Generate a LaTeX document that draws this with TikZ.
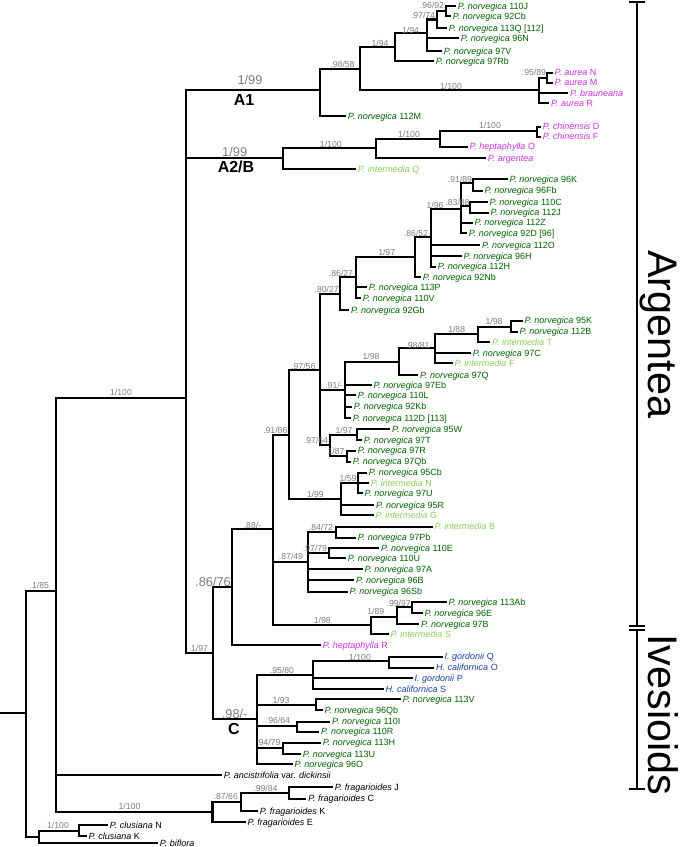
\documentclass[tikz,border=0pt]{standalone}
\usepackage{fontspec}
\setmainfont{Liberation Sans}
\definecolor{dg}{RGB}{0,100,0}
\definecolor{lg}{RGB}{140,205,90}
\definecolor{mg}{RGB}{200,50,220}
\definecolor{bl}{RGB}{25,65,165}
\definecolor{sg}{RGB}{125,125,125}
\newcommand\tp[5]{\node[tipl,text=#1] (#2) at (#3,#4) {#5};}
\newcommand\cl[4]{\draw[branch] (#1 |- #2) -- (#1 |- #3);\foreach \kk in {#4}{\draw[branch] (#1 |- \kk) -- (\kk);}}
\newcommand\sv[4]{\node[#1] (#2) at (#3) {#4};}
\newcommand\nv{\textit{P. norvegica}}
\begin{document}
\begin{tikzpicture}[x=0.75pt,y=-0.75pt,
  branch/.style={line width=1.6pt, line cap=rect},
  tipl/.style={anchor=west, inner xsep=2pt, inner ysep=0pt, font=\fontsize{6.75}{7}\selectfont, text height=4.8pt, text depth=0pt},
  sup/.style={font=\fontsize{6.5}{7}\selectfont, text=sg, inner sep=0pt},
  bigsup/.style={font=\fontsize{9.6}{10}\selectfont, text=sg, inner sep=0pt},
  cladel/.style={font=\fontsize{12}{13}\selectfont\bfseries, inner sep=0pt},
  brk/.style={line width=0.8pt},
  grp/.style={rotate=-90, anchor=base west, inner sep=0pt, font=\fontsize{31}{32}\selectfont}]
\useasboundingbox (0,0) rectangle (685,847);
% ---------- A1
\tp{dg}{a1}{455}{6}{\nv{} 110J}
\tp{dg}{a2}{450}{16}{\nv{} 92Cb}
\tp{dg}{a3}{446}{28}{\nv{} 113Q [112]}
\tp{dg}{a4}{458}{38}{\nv{} 96N}
\tp{dg}{a5}{441}{51}{\nv{} 97V}
\tp{dg}{a6}{433}{61}{\nv{} 97Rb}
\tp{mg}{a7}{551.7}{72.7}{\textit{P. aurea} N}
\tp{mg}{a8}{551.7}{82.7}{\textit{P. aurea} M}
\tp{mg}{a9}{567.3}{93.3}{\textit{P. brauneana}}
\tp{mg}{a10}{548.3}{103.3}{\textit{P. aurea} R}
\tp{dg}{a11}{345}{116}{\nv{} 112M}
\coordinate (n1) at (445.7,11);
\coordinate (n2) at (436.7,19.5);
\coordinate (n3) at (426.7,33);
\coordinate (n4) at (395,47);
\coordinate (nNM) at (547.3,77.7);
\coordinate (nAu) at (539,90);
\coordinate (n5) at (360,69);
\coordinate (n6) at (320,90);
\cl{n1}{a1}{a2}{a1,a2}
\cl{n2}{n1}{a3}{n1,a3}
\cl{n3}{n2}{a5}{n2,a4,a5}
\cl{n4}{n3}{a6}{n3,a6}
\cl{nNM}{a7}{a8}{a7,a8}
\cl{nAu}{nNM}{a10}{nNM,a9,a10}
\cl{n5}{n4}{nAu}{n4,nAu}
\cl{n6}{n5}{a11}{n5,a11}
% ---------- A2/B
\tp{mg}{b1}{540}{126.7}{\textit{P. chinensis} D}
\tp{mg}{b2}{540}{136.7}{\textit{P. chinensis} F}
\tp{mg}{b3}{466.7}{146.7}{\textit{P. heptaphylla} O}
\tp{mg}{b4}{485}{158.3}{\textit{P. argentea}}
\tp{lg}{b5}{355}{169.3}{\textit{P. intermedia} Q}
\coordinate (m1) at (536.7,131);
\coordinate (m2) at (440,139.3);
\coordinate (m3) at (376,148.3);
\coordinate (m4) at (283.3,158.3);
\cl{m1}{b1}{b2}{b1,b2}
\cl{m2}{m1}{b3}{m1,b3}
\cl{m3}{m2}{b4}{m2,b4}
\cl{m4}{m3}{b5}{m3,b5}
% ---------- B clade tips
\tp{dg}{c1}{506.7}{179.3}{\nv{} 96K}
\tp{dg}{c2}{481.7}{190.7}{\nv{} 96Fb}
\tp{dg}{c3}{486.7}{202.3}{\nv{} 110C}
\tp{dg}{c4}{487.7}{212.7}{\nv{} 112J}
\tp{dg}{c5}{471.7}{222.7}{\nv{} 112Z}
\tp{dg}{c6}{466}{233.3}{\nv{} 92D [96]}
\tp{dg}{c7}{479.3}{245}{\nv{} 112O}
\tp{dg}{c8}{460.7}{256}{\nv{} 96H}
\tp{dg}{c9}{435}{266.7}{\nv{} 112H}
\tp{dg}{c10}{420}{277.3}{\nv{} 92Nb}
\tp{dg}{c11}{366}{287.3}{\nv{} 113P}
\tp{dg}{c12}{360}{298.3}{\nv{} 110V}
\tp{dg}{c13}{348.3}{310}{\nv{} 92Gb}
\tp{dg}{c14}{521.7}{320.7}{\nv{} 95K}
\tp{dg}{c15}{516.7}{331.7}{\nv{} 112B}
\tp{lg}{c16}{489.3}{342.3}{\textit{P. intermedia} T}
\tp{dg}{c17}{470}{353.3}{\nv{} 97C}
\tp{lg}{c18}{451.7}{363.3}{\textit{P. intermedia} F}
\tp{dg}{c19}{417.3}{375}{\nv{} 97Q}
\tp{dg}{c20}{370.7}{385}{\nv{} 97Eb}
\tp{dg}{c21}{355}{395}{\nv{} 110L}
\tp{dg}{c22}{351}{406.7}{\nv{} 92Kb}
\tp{dg}{c23}{350}{418.3}{\nv{} 112D [113]}
\tp{dg}{c24}{389.3}{429.3}{\nv{} 95W}
\tp{dg}{c25}{361}{440}{\nv{} 97T}
\tp{dg}{c26}{355}{450.7}{\nv{} 97R}
\tp{dg}{c27}{350}{461.7}{\nv{} 97Qb}
\tp{dg}{c28}{366}{472.7}{\nv{} 95Cb}
\tp{lg}{c29}{368}{483.3}{\textit{P. intermedia} N}
\tp{dg}{c30}{361.7}{493.3}{\nv{} 97U}
\tp{dg}{c31}{373.3}{505}{\nv{} 95R}
\tp{lg}{c32}{372.7}{515}{\textit{P. intermedia} G}
\tp{lg}{c33}{431.7}{526.7}{\textit{P. intermedia} B}
\tp{dg}{c34}{355}{537.7}{\nv{} 97Pb}
\tp{dg}{c35}{378.3}{548.3}{\nv{} 110E}
\tp{dg}{c36}{345}{558.3}{\nv{} 110U}
\tp{dg}{c37}{361.7}{569.3}{\nv{} 97A}
\tp{dg}{c38}{353.3}{580}{\nv{} 96B}
\tp{dg}{c39}{346.7}{591.7}{\nv{} 96Sb}
\tp{dg}{c40}{445.7}{602}{\nv{} 113Ab}
\tp{dg}{c41}{421.7}{613.3}{\nv{} 96E}
\tp{dg}{c42}{418.3}{624}{\nv{} 97B}
\tp{lg}{c43}{387.7}{634.3}{\textit{P. intermedia} S}
\tp{mg}{c44}{320}{645}{\textit{P. heptaphylla} R}
\coordinate (p9189) at (473.3,183.3);
\coordinate (p8388) at (470,206);
\coordinate (p196) at (460.7,209.3);
\coordinate (p8652) at (430.7,236.7);
\coordinate (p197a) at (415,257.3);
\coordinate (p8627) at (356,276.7);
\coordinate (p8027) at (340,294);
\coordinate (p198b) at (511,326.7);
\coordinate (p188) at (477.7,334.3);
\coordinate (p9881) at (435,348.3);
\coordinate (p198a) at (399.3,361.7);
\coordinate (p91) at (345,390);
\coordinate (p197b) at (357.3,434.7);
\coordinate (p187) at (346.7,456);
\coordinate (p9764) at (330,445);
\coordinate (p9756) at (320,370);
\coordinate (p159) at (358.3,483.3);
\coordinate (p199) at (341,499.3);
\coordinate (p9186) at (289.3,435);
\coordinate (p8472) at (336,531.7);
\coordinate (p9779) at (329,553.3);
\coordinate (p8749) at (307.7,561.7);
\coordinate (p9997) at (412.3,606.7);
\coordinate (p189) at (397.3,616.7);
\coordinate (p198c) at (371,625);
\coordinate (p88) at (273.3,529.3);
\coordinate (p8676) at (231.7,587.3);
\cl{p9189}{c1}{c2}{c1,c2}
\cl{p8388}{c3}{c4}{c3,c4}
\cl{p196}{p9189}{c6}{p9189,p8388,c5,c6}
\cl{p8652}{p196}{c9}{p196,c7,c8,c9}
\cl{p197a}{p8652}{c10}{p8652,c10}
\cl{p8627}{p197a}{c12}{p197a,c11,c12}
\cl{p8027}{p8627}{c13}{p8627,c13}
\cl{p198b}{c14}{c15}{c14,c15}
\cl{p188}{p198b}{c16}{p198b,c16}
\cl{p9881}{p188}{c18}{p188,c17,c18}
\cl{p198a}{p9881}{c19}{p9881,c19}
\cl{p91}{p198a}{c23}{p198a,c20,c21,c22,c23}
\cl{p197b}{c24}{c25}{c24,c25}
\cl{p187}{c26}{c27}{c26,c27}
\cl{p9764}{p197b}{p187}{p197b,p187}
\cl{p9756}{p8027}{p9764}{p8027,p91,p9764}
\cl{p159}{c28}{c30}{c28,c29,c30}
\cl{p199}{p159}{c32}{p159,c31,c32}
\cl{p9186}{p9756}{p199}{p9756,p199}
\cl{p8472}{c33}{c34}{c33,c34}
\cl{p9779}{c35}{c36}{c35,c36}
\cl{p8749}{p8472}{c39}{p8472,p9779,c37,c38,c39}
\cl{p9997}{c40}{c41}{c40,c41}
\cl{p189}{p9997}{c42}{p9997,c42}
\cl{p198c}{p189}{c43}{p189,c43}
\cl{p88}{p9186}{p198c}{p9186,p8749,p198c}
\cl{p8676}{p88}{c44}{p88,c44}
% ---------- C clade
\tp{bl}{d1}{441.7}{656.7}{\textit{I. gordonii} Q}
\tp{bl}{d2}{433.3}{667.7}{\textit{H. californica} O}
\tp{bl}{d3}{411.7}{678.3}{\textit{I. gordonii} P}
\tp{bl}{d4}{382.7}{689}{\textit{H. californica} S}
\tp{dg}{d5}{400}{699.3}{\nv{} 113V}
\tp{dg}{d6}{321.7}{710}{\nv{} 96Qb}
\tp{dg}{d7}{329.3}{721.7}{\nv{} 110I}
\tp{dg}{d8}{318.3}{731.7}{\nv{} 110R}
\tp{dg}{d9}{320}{742.7}{\nv{} 113H}
\tp{dg}{d10}{300}{754}{\nv{} 113U}
\tp{dg}{d11}{291.7}{764.3}{\nv{} 96O}
\coordinate (q1100) at (389.3,661);
\coordinate (q9580) at (312.7,675);
\coordinate (q193) at (315.7,705.3);
\coordinate (q9664) at (297.3,726);
\coordinate (q9479) at (283.3,747.7);
\coordinate (qC) at (256.7,719.3);
\coordinate (p197) at (212.7,653);
\coordinate (p1100) at (186,398);
\cl{q1100}{d1}{d2}{d1,d2}
\cl{q9580}{q1100}{d4}{q1100,d3,d4}
\cl{q193}{d5}{d6}{d5,d6}
\cl{q9664}{d7}{d8}{d7,d8}
\cl{q9479}{d9}{d10}{d9,d10}
\cl{qC}{q9580}{d11}{q9580,q193,q9664,q9479,d11}
\cl{p197}{p8676}{qC}{p8676,qC}
\cl{p1100}{n6}{p197}{n6,m4,p197}
% ---------- outgroups
\tp{black}{e1}{221}{775.4}{\textit{P. ancistrifolia} var. \textit{dickinsii}}
\tp{black}{e2}{332}{787}{\textit{P. fragarioides} J}
\tp{black}{e3}{305.4}{798.6}{\textit{P. fragarioides} C}
\tp{black}{e4}{257}{811}{\textit{P. fragarioides} K}
\tp{black}{e5}{244.6}{821.8}{\textit{P. fragarioides} E}
\tp{black}{e6}{107}{825.4}{\textit{P. clusiana} N}
\tp{black}{e7}{85.7}{836}{\textit{P. clusiana} K}
\tp{black}{e8}{157}{843}{\textit{P. biflora}}
\coordinate (r9984) at (288.6,793.2);
\coordinate (r8766) at (241,802);
\coordinate (rfrag) at (212.5,812);
\coordinate (rclus) at (78.6,830.7);
\coordinate (rcb) at (38.6,837);
\coordinate (r185) at (56,590.7);
\coordinate (root) at (25.7,713);
\coordinate (r0) at (0,713);
\cl{r9984}{e2}{e3}{e2,e3}
\cl{r8766}{r9984}{e4}{r9984,e4}
\cl{rfrag}{r8766}{e5}{r8766,e5}
\cl{rclus}{e6}{e7}{e6,e7}
\cl{rcb}{rclus}{e8}{rclus,e8}
\cl{r185}{p1100}{rfrag}{p1100,e1,rfrag}
\cl{root}{r185}{rcb}{r185,rcb}
\draw[branch] (r0) -- (root);
% ---------- support values
\sv{sup}{s1}{432,5.5}{.96/92}
\sv{sup}{s2}{423,15.5}{.97/74}
\sv{sup}{s3}{410.5,30}{1/94}
\sv{sup}{s4}{380,43}{1/94}
\sv{sup}{s5}{342.5,64}{.98/58}
\sv{sup}{s6}{451,86}{1/100}
\sv{sup}{s7}{534,72.5}{.95/89}
\sv{bigsup}{s8}{250,80}{1/99}
\sv{cladel}{l1}{244,100}{A1}
\sv{bigsup}{s9}{234.7,152}{1/99}
\sv{cladel}{l2}{236,166.7}{A2/B}
\sv{sup}{s10}{330.8,144}{1/100}
\sv{sup}{s11}{409,134}{1/100}
\sv{sup}{s12}{490,125.7}{1/100}
\sv{sup}{s13}{460,179.5}{.91/89}
\sv{sup}{s14}{457.5,202}{.83/88}
\sv{sup}{s15}{435,205}{1/96}
\sv{sup}{s16}{416,233}{.86/52}
\sv{sup}{s17}{386.7,252.7}{1/97}
\sv{sup}{s18}{341,273}{.86/27}
\sv{sup}{s19}{326.7,289.3}{.80/27}
\sv{sup}{s20}{303.3,366}{.97/56}
\sv{sup}{s21}{275.3,430}{.91/86}
\sv{sup}{s22}{334,385}{.91/-}
\sv{sup}{s23}{371,356.7}{1/98}
\sv{sup}{s24}{417.5,345}{.98/81}
\sv{sup}{s25}{456.7,329.3}{1/88}
\sv{sup}{s26}{494,321.7}{1/98}
\sv{sup}{s27}{344,430}{1/97}
\sv{sup}{s28}{316,440}{.97/64}
\sv{sup}{s29}{336,451.7}{1/87}
\sv{sup}{s30}{348,478.3}{1/59}
\sv{sup}{s31}{315.3,494.3}{1/99}
\sv{sup}{s32}{252.5,525}{.88/-}
\sv{sup}{s33}{321,527.3}{.84/72}
\sv{sup}{s34}{315,548.3}{.97/79}
\sv{sup}{s35}{291,556.7}{.87/49}
\sv{bigsup}{s36}{213,581.7}{.86/76}
\sv{sup}{s37}{398.7,603.3}{.99/97}
\sv{sup}{s38}{375.8,611.7}{1/89}
\sv{sup}{s39}{322.3,620.7}{1/98}
\sv{sup}{s40}{199.5,648.3}{1/97}
\sv{bigsup}{s41}{234.7,714.3}{.98/-}
\sv{cladel}{l3}{234,729.3}{C}
\sv{sup}{s42}{282,670.7}{.95/80}
\sv{sup}{s43}{360,657.3}{1/100}
\sv{sup}{s44}{281,700}{1/93}
\sv{sup}{s45}{278,720.7}{.96/64}
\sv{sup}{s46}{269.5,742.7}{94/79}
\sv{sup}{s47}{40.5,585}{1/85}
\sv{sup}{s48}{121,392}{1/100}
\sv{sup}{s49}{129.5,806.8}{1/100}
\sv{sup}{s50}{225.8,796.8}{.87/66}
\sv{sup}{s51}{265.4,788.6}{.99/84}
\sv{sup}{s52}{58,825.4}{1/100}
% ---------- brackets
\coordinate (k1) at (637,2);
\coordinate (k2) at (637,626);
\coordinate (k3) at (637,630);
\coordinate (k4) at (637,789);
\draw[brk] (k1) -- (k2);
\draw[brk] (k3) -- (k4);
\foreach \kk in {k1,k2,k3,k4}{\draw[brk] ([xshift=-6pt]\kk) -- ([xshift=6pt]\kk);}
\node[grp] (g1) at (648,250) {Argentea};
\node[grp] (g2) at (648,634) {Ivesioids};
\end{tikzpicture}
\end{document}
